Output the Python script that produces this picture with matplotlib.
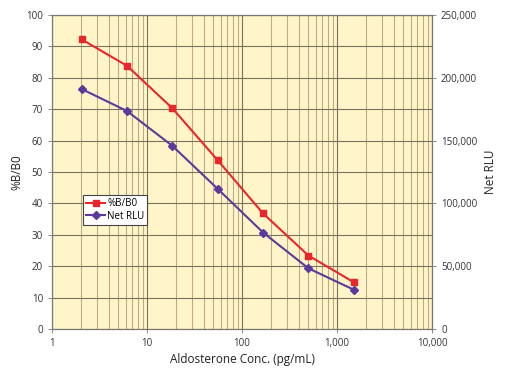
import matplotlib.pyplot as plt
from matplotlib.ticker import FuncFormatter, LogLocator, NullFormatter

# Data
conc = [2.06, 6.17, 18.5, 55.6, 166.7, 500, 1500]
pct_b_b0 = [92.2, 83.8, 70.3, 53.7, 36.8, 23.4, 14.9]
net_rlu = [191000, 173500, 145800, 111500, 76800, 48300, 31300]

red = '#e8262b'
purple = '#5b3a9b'
bg = '#fff5c8'

plt.rcParams['font.family'] = 'Open Sans'

fig = plt.figure(figsize=(5.08, 3.76), dpi=100)
ax = fig.add_axes([52 / 508, 1 - 329 / 376, 380 / 508, 314 / 376])
ax.set_facecolor(bg)

ax.set_xscale('log')
ax.set_xlim(1, 10000)
ax.set_ylim(0, 100)
ax.set_yticks(range(0, 101, 10))
ax.xaxis.set_major_locator(LogLocator(base=10))
ax.xaxis.set_minor_locator(LogLocator(base=10, subs=range(2, 10)))
ax.xaxis.set_minor_formatter(NullFormatter())
ax.xaxis.set_major_formatter(FuncFormatter(lambda v, p: '{:,.0f}'.format(v)))

# Grid
ax.grid(True, which='major', color='#7a7360', linewidth=0.8)
ax.grid(True, which='minor', axis='x', color='#b8ad86', linewidth=0.8)
ax.set_axisbelow(True)

ax2 = ax.twinx()
ax2.set_ylim(0, 250000)
ax2.set_yticks(range(0, 250001, 50000))
ax2.yaxis.set_major_formatter(FuncFormatter(lambda v, p: '{:,.0f}'.format(v)))

for a in (ax, ax2):
    for s in a.spines.values():
        s.set_color('#777777')
        s.set_linewidth(0.8)
    a.tick_params(which='both', length=3, width=0.6, color='#777777',
                  labelsize=7, labelcolor='#333333')
ax.tick_params(which='minor', length=0)

l1, = ax.plot(conc, pct_b_b0, color=red, linewidth=1.5, marker='s',
              markersize=5, label='%B/B0')
l2, = ax2.plot(conc, net_rlu, color=purple, linewidth=1.5, marker='D',
               markersize=4.5, label='Net RLU')

ax.set_ylabel('%B/B0', fontsize=8.5, color='#222222', labelpad=2)
ax2.set_ylabel('Net RLU', fontsize=8.5, color='#222222', labelpad=5)
ax.set_xlabel('Aldosterone Conc. (pg/mL)', fontsize=8.5, color='#222222', labelpad=3)

leg = ax2.legend(handles=[l1, l2], loc='upper left',
                 bbox_to_anchor=(31 / 380, 134 / 314), fontsize=7,
                 frameon=True, fancybox=False, framealpha=1,
                 edgecolor='#444444', borderpad=0.3, handlelength=2.0,
                 handletextpad=0.2, labelspacing=0.2, borderaxespad=0)
leg.get_frame().set_linewidth(0.8)

fig.savefig('out.png', dpi=100)
